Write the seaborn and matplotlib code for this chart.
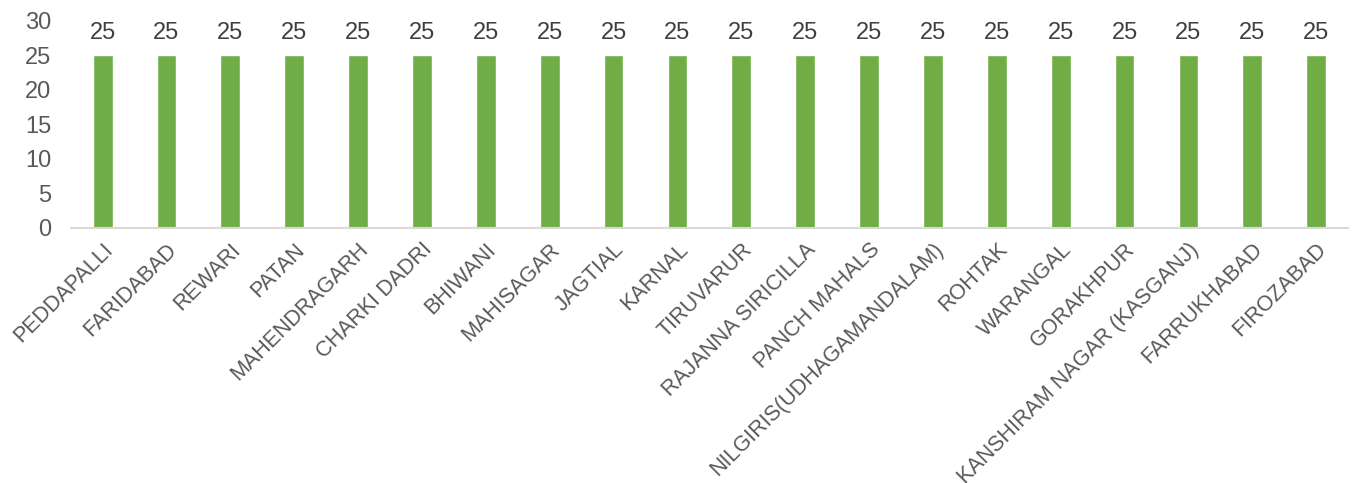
import pandas as pd
import matplotlib
matplotlib.use('Agg')
import matplotlib.pyplot as plt
import seaborn as sns

districts = ['PEDDAPALLI', 'FARIDABAD', 'REWARI', 'PATAN', 'MAHENDRAGARH',
             'CHARKI DADRI', 'BHIWANI', 'MAHISAGAR', 'JAGTIAL', 'KARNAL',
             'TIRUVARUR', 'RAJANNA SIRICILLA', 'PANCH MAHALS',
             'NILGIRIS(UDHAGAMANDALAM)', 'ROHTAK', 'WARANGAL', 'GORAKHPUR',
             'KANSHIRAM NAGAR (KASGANJ)', 'FARRUKHABAD', 'FIROZABAD']
values = [25, 25, 25, 25, 25, 25, 25, 25, 25, 25,
          25, 25, 25, 25, 25, 25, 25, 25, 25, 25]

df = pd.DataFrame({'district': districts, 'value': values})

sns.set_style('white')
plt.rcParams['font.family'] = ['Liberation Sans', 'DejaVu Sans']

fig = plt.figure(figsize=(13.59, 4.83), dpi=100)
ax = fig.add_axes([0.052, 0.528, 0.940, 0.429])

sns.barplot(data=df, x='district', y='value', color='#70AD47', width=0.31,
            saturation=1, ax=ax)

for c in ax.containers:
    ax.bar_label(c, fmt='%d', padding=8, fontsize=17, color='#404040')

ax.set_ylim(0, 30)
ax.set_yticks(range(0, 31, 5))
ax.set_xlim(-0.5, len(districts) - 0.5)
ax.set_xlabel('')
ax.set_ylabel('')

ax.tick_params(axis='y', labelsize=17, labelcolor='#595959', length=0, pad=14)
ax.tick_params(axis='x', labelsize=15.5, labelcolor='#595959', length=0, pad=8)
plt.setp(ax.get_xticklabels(), rotation=45, ha='right', rotation_mode='anchor')

for s in ['top', 'right', 'left']:
    ax.spines[s].set_visible(False)
ax.spines['bottom'].set_color('#D9D9D9')
ax.spines['bottom'].set_linewidth(1.5)

fig.savefig('out.png', dpi=100)
